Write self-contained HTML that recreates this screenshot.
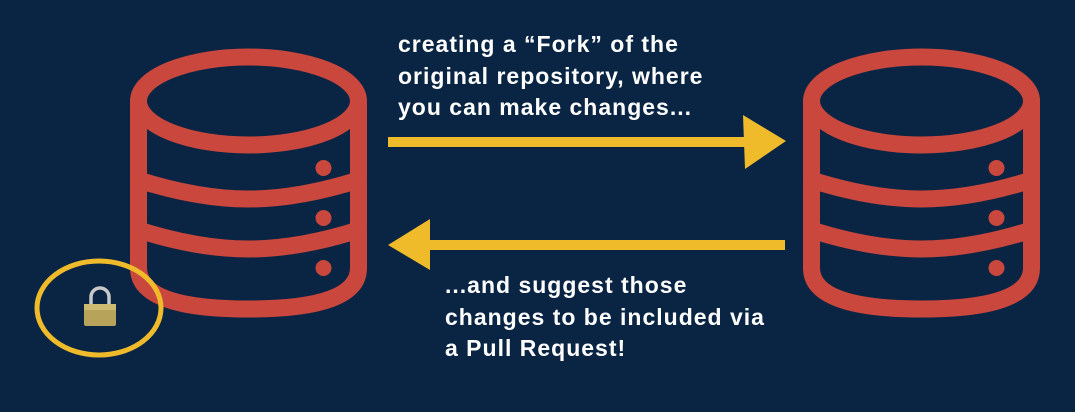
<!DOCTYPE html>
<html><head><meta charset="utf-8"><style>
html,body{margin:0;padding:0;}
body{width:1075px;height:412px;background:#0a2443;overflow:hidden;position:relative;font-family:"Liberation Sans",sans-serif;}
.t{position:absolute;color:#fff;font-weight:bold;font-size:23px;letter-spacing:1px;line-height:31.5px;white-space:nowrap;}
svg{position:absolute;left:0;top:0;}
</style></head><body>
<svg width="1075" height="412" viewBox="0 0 1075 412">
<defs>
<g id="db" fill="none" stroke="#c9473d" stroke-width="17" stroke-linecap="round">
<ellipse cx="0" cy="101" rx="110" ry="44"/>
<path d="M-110,101 V268 Q-110,309 0,309 Q110,309 110,268 V101"/>
<path d="M-110,180 Q-50,199 0,199 Q50,199 110,180"/>
<path d="M-110,230 Q-50,249 0,249 Q50,249 110,230"/>
<circle cx="75" cy="168" r="5" fill="#c9473d" stroke-width="6"/>
<circle cx="75" cy="218" r="5" fill="#c9473d" stroke-width="6"/>
<circle cx="75" cy="268" r="5" fill="#c9473d" stroke-width="6"/>
</g>
</defs>
<use href="#db" x="248.5" y="0"/>
<use href="#db" x="921.5" y="0"/>
<g fill="#f0bb2a">
<rect x="388" y="137" width="360" height="10"/>
<path d="M743,115 L786,141 L745,169 Z"/>
<rect x="425" y="240" width="360" height="10"/>
<path d="M430,219 L388,245 L430,270 Z"/>
</g>
<ellipse cx="99" cy="308" rx="62" ry="47" fill="none" stroke="#f0bb2a" stroke-width="5"/>
<path d="M91,305 V297 a9,9 0 0 1 18,0 V305" fill="none" stroke="#c8c8c8" stroke-width="3.5"/>
<rect x="84" y="304" width="32" height="22" rx="2" fill="#b8a35a"/>
<rect x="84" y="304" width="32" height="6" fill="#cdbb72"/>
</svg>
<div class="t" style="left:398px;top:29px;">creating a “Fork” of the<br>original repository, where<br>you can make changes...</div>
<div class="t" style="left:445px;top:270px;">...and suggest those<br>changes to be included via<br>a Pull Request!</div>
</body></html>
